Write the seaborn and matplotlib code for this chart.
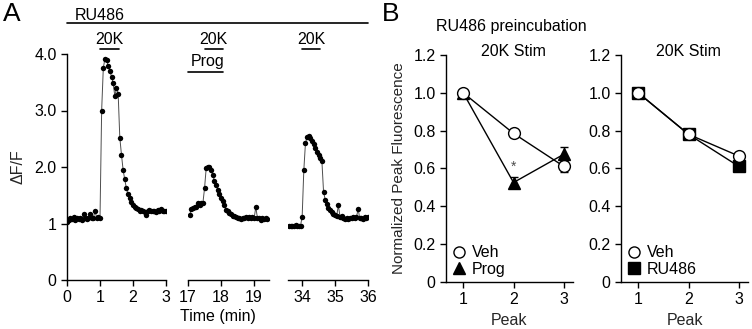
import numpy as np
import matplotlib
matplotlib.use("Agg")
import matplotlib.pyplot as plt
from matplotlib.lines import Line2D
import seaborn as sns

# ---- Panel A: dF/F trace, one sample every 0.05 min, three recording windows
t_seg1 = np.round(np.arange(0.0, 3.001, 0.05), 2)
f_seg1 = [1.02, 1.06, 1.10, 1.08, 1.12, 1.07, 1.09, 1.08, 1.10, 1.07,
          1.16, 1.09, 1.08, 1.10, 1.17, 1.09, 1.10, 1.22, 1.10, 1.12,
          1.09, 3.00, 3.75, 3.92, 3.90, 3.78, 3.70, 3.60, 3.48, 3.25,
          3.40, 3.30, 2.52, 2.22, 1.95, 1.78, 1.62, 1.52, 1.45, 1.38,
          1.33, 1.30, 1.27, 1.25, 1.22, 1.24, 1.22, 1.20, 1.15, 1.22,
          1.24, 1.22, 1.23, 1.22, 1.21, 1.24, 1.22, 1.25, 1.22, 1.23,
          1.22]

t_seg2 = np.round(np.arange(17.05, 19.401, 0.05), 2)
f_seg2 = [1.15, 1.26, 1.28, 1.29, 1.30, 1.36, 1.33, 1.37, 1.36, 1.62,
          1.98, 2.00, 2.00, 1.95, 1.85, 1.76, 1.68, 1.60, 1.52, 1.46,
          1.40, 1.33, 1.24, 1.22, 1.19, 1.16, 1.14, 1.13, 1.12, 1.10,
          1.09, 1.08, 1.10, 1.09, 1.11, 1.10, 1.12, 1.10, 1.11, 1.09,
          1.29, 1.10, 1.09, 1.07, 1.09, 1.08, 1.09, 1.08]

t_seg3 = np.round(np.arange(33.60, 36.001, 0.05), 2)
f_seg3 = [0.96, 0.96, 0.95, 0.96, 0.97, 0.96, 0.95, 0.96,
          1.12, 1.94, 2.42, 2.53, 2.55, 2.52, 2.46, 2.40, 2.33, 2.27,
          2.21, 2.16, 2.10, 1.56, 1.42, 1.34, 1.28, 1.24, 1.20, 1.17,
          1.15, 1.14, 1.32, 1.12, 1.13, 1.10, 1.08, 1.09, 1.08, 1.10,
          1.09, 1.12, 1.10, 1.11, 1.26, 1.09, 1.10, 1.08, 1.11, 1.10,
          1.12]

seg_xlim = [(0, 3), (17, 19.45), (33.57, 36)]
seg_ticks = [[0, 1, 2, 3], [17, 18, 19], [34, 35, 36]]
stim_20k = [(1.0, 1.58), (17.5, 18.06), (34.0, 34.55)]
prog_window = (17.0, 18.06)

# ---- Panel B: normalized peak fluorescence
peaks = [1, 2, 3]
veh_a = [1.0, 0.785, 0.61]
veh_a_err = [0.01, 0.02, 0.03]
prog = [1.0, 0.525, 0.675]
prog_err = [0.01, 0.03, 0.04]
veh_b = [1.0, 0.78, 0.665]
veh_b_err = [0.01, 0.015, 0.015]
ru486 = [1.0, 0.78, 0.61]
ru486_err = [0.01, 0.015, 0.015]

sns.set_theme(style="ticks")
plt.rcParams["font.family"] = ["Liberation Sans", "DejaVu Sans"]
plt.rcParams.update({"font.size": 11, "axes.linewidth": 1.0,
                     "xtick.major.width": 1.0, "ytick.major.width": 1.0,
                     "xtick.major.size": 4, "ytick.major.size": 4,
                     "xtick.color": "black", "ytick.color": "black",
                     "axes.edgecolor": "black", "text.color": "black",
                     "xtick.labelsize": 11.5, "ytick.labelsize": 11.5})

W, H = 752, 329
fig = plt.figure(figsize=(W / 100, H / 100), dpi=100)


def px_axes(x0, y0, x1, y1):
    return fig.add_axes([x0 / W, 1 - y1 / H, (x1 - x0) / W, (y1 - y0) / H])


ax1 = px_axes(67, 54, 166, 280)
ax2 = px_axes(188, 54, 269, 280)
ax3 = px_axes(288, 54, 368, 280)
seg_axes = [ax1, ax2, ax3]

for ax, t, f, xl, xt, stim in zip(seg_axes, [t_seg1, t_seg2, t_seg3],
                                  [f_seg1, f_seg2, f_seg3], seg_xlim,
                                  seg_ticks, stim_20k):
    sns.lineplot(x=t, y=f, ax=ax, color="0.3", linewidth=0.7, marker="o",
                 markersize=3.9, markerfacecolor="black",
                 markeredgecolor="black", markeredgewidth=0)
    ax.set_xlim(*xl)
    ax.set_ylim(0, 4)
    ax.set_xticks(xt)
    ax.set_xlabel("")
    ax.plot(stim, [4.09, 4.09], color="black", lw=1.2, clip_on=False)
    ax.text(np.mean(stim), 4.25, "20K", ha="center", va="center", fontsize=11.5)

ax2.plot(prog_window, [3.69, 3.69], color="black", lw=1.2, clip_on=False)
ax2.text(np.mean(prog_window) + 0.05, 3.86, "Prog", ha="center", va="center",
         fontsize=11.5)

ax1.set_yticks([0, 1, 2, 3, 4])
ax1.set_yticklabels(["0", "1", "2.0", "3.0", "4.0"])
ax1.set_ylabel("ΔF/F", labelpad=6, fontsize=11.5)
sns.despine(ax=ax1)
for ax in (ax2, ax3):
    sns.despine(ax=ax, left=True)
    ax.set_yticks([])
    ax.set_ylabel("")

# RU486 present over the whole recording
p1 = ax1.get_position()
p3 = ax3.get_position()
fig.add_artist(Line2D([p1.x0, p3.x1], [1 - 23 / H] * 2, transform=fig.transFigure,
                      color="black", lw=1.2))
fig.text(75 / W, 1 - 15.5 / H, "RU486", ha="left", va="center", fontsize=11.5)
fig.text(218 / W, 1 - 316 / H, "Time (min)", ha="center", va="center",
         fontsize=11.5)

# ---- Panel B axes
bx1 = px_axes(446, 55, 573, 281.7)
bx2 = px_axes(621, 55, 748, 281.7)

sns.lineplot(x=peaks, y=prog, ax=bx1, color="black", linewidth=1, marker="^",
             markersize=9, markerfacecolor="black", markeredgecolor="black",
             markeredgewidth=1, zorder=3)
bx1.errorbar(peaks, prog, yerr=prog_err, fmt="none", ecolor="black",
             elinewidth=1, capsize=3, zorder=2)
sns.lineplot(x=peaks, y=veh_a, ax=bx1, color="black", linewidth=1, marker="o",
             markersize=8.5, markerfacecolor="white", markeredgecolor="black",
             markeredgewidth=1, zorder=4)
bx1.errorbar(peaks, veh_a, yerr=veh_a_err, fmt="none", ecolor="black",
             elinewidth=1, capsize=3, zorder=2)
bx1.text(2, 0.61, "*", ha="center", va="center", fontsize=10, color="0.3")

sns.lineplot(x=peaks, y=ru486, ax=bx2, color="black", linewidth=1, marker="s",
             markersize=8.5, markerfacecolor="black", markeredgecolor="black",
             markeredgewidth=1, zorder=3)
bx2.errorbar(peaks, ru486, yerr=ru486_err, fmt="none", ecolor="black",
             elinewidth=1, capsize=3, zorder=2)
sns.lineplot(x=peaks, y=veh_b, ax=bx2, color="black", linewidth=1, marker="o",
             markersize=8.5, markerfacecolor="white", markeredgecolor="black",
             markeredgewidth=1, zorder=4)
bx2.errorbar(peaks, veh_b, yerr=veh_b_err, fmt="none", ecolor="black",
             elinewidth=1, capsize=3, zorder=2)

for bx, second, marker in ((bx1, "Prog", "^"), (bx2, "RU486", "s")):
    bx.set_xlim(0.66, 3.18)
    bx.set_ylim(0, 1.2)
    bx.set_xticks(peaks)
    bx.set_yticks([0, 0.2, 0.4, 0.6, 0.8, 1.0, 1.2])
    bx.set_yticklabels(["0", "0.2", "0.4", "0.6", "0.8", "1.0", "1.2"])
    bx.set_xlabel("Peak", fontsize=11.5)
    bx.set_ylabel("")
    bx.text(2, 1.216, "20K Stim", ha="center", va="center", fontsize=11.5)
    sns.despine(ax=bx)
    handles = [Line2D([], [], ls="none", marker="o", ms=8, mfc="white",
                      mec="black", mew=1),
               Line2D([], [], ls="none", marker=marker, ms=8, mfc="black",
                      mec="black", mew=1)]
    bx.legend(handles, ["Veh", second], loc="lower left", frameon=False,
              handletextpad=0.3, labelspacing=0.1, borderaxespad=0.2,
              handlelength=1.0, borderpad=0.1, fontsize=11.5)

bx1.set_ylabel("Normalized Peak Fluorescence", labelpad=5, fontsize=11)
fig.text(511 / W, 1 - 26 / H, "RU486 preincubation", ha="center", va="center",
         fontsize=11.5)

fig.text(11.5 / W, 1 - 14 / H, "A", ha="center", va="center", fontsize=19)
fig.text(391 / W, 1 - 14 / H, "B", ha="center", va="center", fontsize=19)

fig.savefig("out.png", dpi=100)
